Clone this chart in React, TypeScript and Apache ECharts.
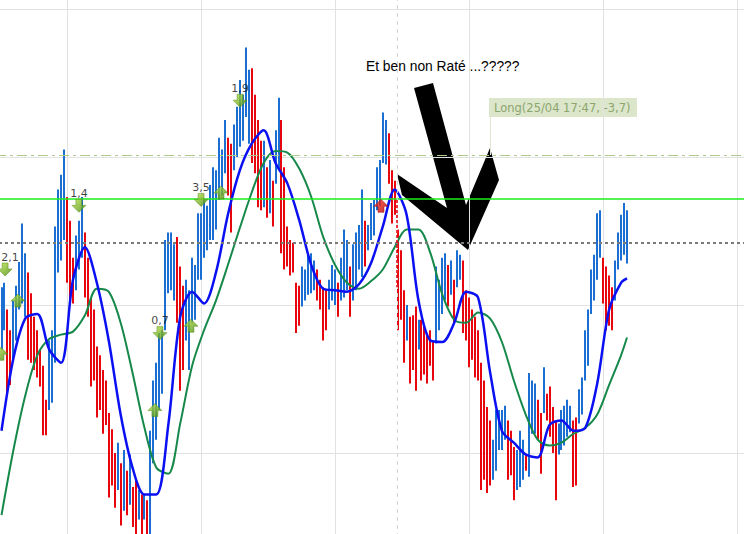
import { useEffect, useRef } from 'react'
import * as echarts from 'echarts'

// 1-bar-per-slot high/low chart with two moving averages, trade markers and
// the hand-drawn annotation of the original screenshot.

const FIRST_BAR = 23

// i23..i233
const highs = [
  4031.2, 4031.5, 4029.7, 4028.3, 4030.3, 4031.3, 4032.9, 4035.5, 4033.5, 4032.2,
  4030.8, 4029.2, 4028.3, 4027.0, 4025.9, 4023.6, 4027.6, 4028.3, 4035.3, 4037.8,
  4038.8, 4040.5, 4037.3, 4035.7, 4033.2, 4034.7, 4035.7, 4037.3, 4034.9, 4033.2,
  4030.5, 4029.7, 4027.2, 4026.6, 4025.6, 4024.9, 4022.7, 4021.6, 4020.0, 4020.7,
  4019.3, 4020.2, 4018.8, 4019.9, 4017.7, 4018.2, 4017.5, 4017.2, 4017.2, 4016.8,
  4021.5, 4024.9, 4026.1, 4028.1, 4028.3, 4034.4, 4034.9, 4034.9, 4034.1, 4034.6,
  4032.6, 4031.3, 4031.7, 4031.0, 4033.2, 4032.7, 4036.2, 4036.2, 4037.1, 4036.7,
  4038.1, 4039.3, 4039.1, 4041.3, 4040.5, 4042.5, 4041.3, 4040.9, 4042.2, 4043.4,
  4045.2, 4044.2, 4047.4, 4045.9, 4046.0, 4044.2, 4042.5, 4041.1, 4041.1, 4039.3,
  4039.8, 4038.4, 4041.8, 4044.0, 4042.5, 4039.3, 4035.3, 4034.4, 4034.2, 4031.5,
  4031.3, 4032.6, 4032.4, 4033.4, 4033.5, 4033.0, 4032.4, 4031.7, 4031.2, 4031.0,
  4031.7, 4032.7, 4032.4, 4031.5, 4033.2, 4035.1, 4034.4, 4032.6, 4034.1, 4034.9,
  4035.4, 4037.8, 4035.7, 4035.4, 4036.9, 4037.1, 4039.3, 4039.8, 4043.0, 4042.5,
  4041.6, 4039.1, 4038.4, 4035.1, 4033.7, 4031.0, 4030.0, 4029.2, 4029.3, 4029.9,
  4029.0, 4029.0, 4028.6, 4028.1, 4028.3, 4027.6, 4032.6, 4031.7, 4033.2, 4033.5,
  4032.7, 4033.0, 4031.7, 4033.7, 4033.4, 4033.0, 4031.0, 4030.5, 4029.7, 4029.2,
  4028.3, 4026.1, 4024.9, 4023.1, 4022.2, 4020.9, 4022.9, 4022.9, 4022.9, 4023.2,
  4022.2, 4021.5, 4020.4, 4020.2, 4021.5, 4020.9, 4019.9, 4025.4, 4024.9, 4024.7,
  4023.6, 4022.7, 4025.8, 4024.0, 4024.5, 4023.1, 4022.2, 4022.0, 4022.9, 4023.2,
  4023.6, 4023.2, 4022.2, 4022.4, 4024.3, 4025.1, 4028.3, 4029.7, 4032.4, 4033.4,
  4036.2, 4036.4, 4033.2, 4032.6, 4032.0, 4031.2, 4033.0, 4034.9, 4036.1, 4036.9, 4036.4,
]

const lows = [
  4027.0, 4028.3, 4024.0, 4024.6, 4026.3, 4027.6, 4029.7, 4030.1, 4029.2, 4026.3,
  4026.1, 4025.6, 4025.1, 4024.5, 4021.2, 4021.2, 4022.9, 4023.4, 4026.1, 4032.2,
  4033.0, 4034.4, 4031.5, 4030.1, 4030.1, 4031.0, 4032.4, 4033.2, 4030.5, 4029.2,
  4024.5, 4024.9, 4022.4, 4022.9, 4021.3, 4021.9, 4017.0, 4017.8, 4016.3, 4017.5,
  4015.1, 4016.1, 4015.8, 4016.5, 4015.0, 4014.5, 4015.5, 4014.5, 4015.5, 4014.5,
  4014.5, 4019.3, 4020.9, 4022.9, 4024.0, 4028.3, 4030.8, 4031.0, 4030.3, 4028.8,
  4024.2, 4025.6, 4027.6, 4025.6, 4028.8, 4029.0, 4031.7, 4031.7, 4033.2, 4033.7,
  4034.4, 4034.4, 4035.1, 4037.1, 4037.4, 4038.9, 4037.4, 4034.9, 4039.1, 4040.0,
  4040.7, 4041.1, 4042.7, 4040.9, 4039.6, 4038.9, 4036.6, 4036.4, 4036.6, 4035.9,
  4036.2, 4035.3, 4038.2, 4039.1, 4033.5, 4032.4, 4032.6, 4032.0, 4032.2, 4028.1,
  4028.6, 4029.9, 4030.3, 4030.7, 4030.8, 4031.0, 4030.3, 4029.7, 4027.6, 4028.3,
  4029.7, 4030.3, 4030.0, 4029.2, 4030.3, 4030.5, 4031.0, 4029.2, 4030.3, 4031.0,
  4032.4, 4031.9, 4032.6, 4033.7, 4034.4, 4034.7, 4036.4, 4036.7, 4039.6, 4039.5,
  4038.2, 4035.5, 4036.1, 4028.3, 4029.0, 4026.1, 4027.6, 4024.7, 4025.6, 4024.2,
  4027.0, 4024.9, 4025.3, 4024.7, 4025.9, 4024.9, 4027.4, 4028.3, 4029.4, 4030.3,
  4029.9, 4030.7, 4028.8, 4031.2, 4031.7, 4028.1, 4027.6, 4025.8, 4026.3, 4025.1,
  4024.9, 4017.5, 4018.2, 4017.3, 4017.8, 4018.2, 4018.8, 4020.2, 4020.2, 4020.9,
  4018.2, 4018.5, 4016.8, 4017.5, 4017.7, 4018.2, 4018.8, 4018.4, 4021.3, 4021.3,
  4020.9, 4018.6, 4022.7, 4022.2, 4021.1, 4020.0, 4016.8, 4019.9, 4020.2, 4020.5,
  4021.1, 4021.4, 4017.7, 4017.8, 4022.0, 4022.6, 4024.9, 4025.9, 4029.4, 4030.3,
  4031.7, 4033.2, 4030.1, 4028.3, 4028.6, 4028.3, 4030.3, 4032.4, 4033.0, 4033.4, 4032.8,
]

// 1 = up bar (blue), 0 = down bar (red)
const dirs = [
  1, 1, 0, 0, 1, 1, 1, 1, 1, 0,
  0, 0, 0, 0, 0, 0, 1, 1, 1, 1,
  1, 1, 0, 0, 0, 1, 1, 1, 0, 0,
  0, 0, 0, 0, 0, 0, 0, 0, 0, 1,
  0, 1, 0, 1, 0, 0, 1, 0, 1, 0,
  1, 1, 1, 1, 1, 1, 1, 1, 1, 0,
  0, 0, 1, 1, 1, 1, 1, 1, 1, 1,
  1, 1, 1, 1, 1, 1, 0, 0, 1, 1,
  1, 1, 1, 1, 0, 0, 0, 0, 1, 0,
  1, 0, 1, 1, 0, 0, 0, 0, 0, 0,
  0, 1, 1, 1, 1, 1, 0, 0, 0, 0,
  1, 1, 1, 0, 1, 1, 1, 0, 1, 1,
  1, 1, 0, 1, 1, 1, 1, 1, 1, 1,
  0, 0, 0, 0, 0, 0, 1, 0, 0, 0,
  1, 0, 0, 0, 0, 0, 1, 1, 1, 1,
  0, 1, 0, 1, 1, 0, 0, 0, 0, 0,
  0, 0, 0, 0, 0, 1, 1, 1, 1, 1,
  0, 0, 0, 1, 1, 1, 0, 1, 1, 1,
  0, 0, 1, 0, 0, 0, 0, 1, 1, 1,
  1, 1, 0, 0, 1, 1, 1, 1, 1, 1,
  1, 1, 0, 0, 0, 0, 1, 1, 1, 1, 1,
]

const maIndex = [
  23, 27, 31, 35, 39, 43, 47, 51, 55, 59, 63, 67, 71, 75, 79, 83, 87, 91, 95, 99,
  103, 107, 111, 115, 119, 123, 127, 131, 135, 139, 143, 147, 151, 155, 159, 163,
  167, 171, 175, 179, 183, 187, 191, 195, 199, 203, 207, 211, 215, 219, 223, 227,
  231, 233,
]

const maFast = [
  4021.5, 4026.4, 4029.1, 4029.4, 4027.0, 4026.1, 4031.7, 4033.9, 4031.5, 4027.6,
  4022.6, 4019.0, 4017.2, 4017.2, 4021.9, 4029.2, 4030.9, 4030.1, 4032.2, 4036.1,
  4039.1, 4040.9, 4041.8, 4039.6, 4038.2, 4035.7, 4032.7, 4031.1, 4031.0, 4030.9,
  4031.4, 4032.8, 4035.3, 4037.8, 4036.1, 4030.3, 4027.6, 4027.5, 4028.8, 4030.9,
  4030.5, 4025.5, 4021.5, 4020.7, 4019.9, 4019.7, 4021.9, 4022.2, 4021.5, 4021.7,
  4024.7, 4029.7, 4031.5, 4031.8,
]

const maSlow = [
  4015.8, 4020.2, 4023.9, 4026.6, 4027.7, 4028.0, 4028.2, 4029.3, 4031.1, 4030.9,
  4028.8, 4025.4, 4021.7, 4019.0, 4018.6, 4022.0, 4025.9, 4028.3, 4030.3, 4032.7,
  4035.2, 4037.6, 4039.6, 4040.4, 4040.3, 4039.2, 4037.3, 4034.6, 4032.7, 4031.5,
  4031.1, 4031.6, 4032.4, 4033.9, 4035.1, 4035.1, 4033.5, 4030.7, 4029.0, 4028.8,
  4029.5, 4029.1, 4027.5, 4024.9, 4022.6, 4020.9, 4020.5, 4020.7, 4021.3, 4021.7,
  4022.6, 4024.6, 4026.6, 4027.8,
]

// trade signals
const sigIndex = [24.2, 28.5, 22.8, 49, 76.2, 74.5, 86.6, 90, 96.7, 103.1, 150.4]
const sigPrice = [4032.4, 4030.3, 4026.7, 4036.7, 4028.1, 4022.9, 4028.6, 4037.1, 4037.6, 4043.8, 4036.7]
const sigDir = ['down', 'up', 'up', 'down', 'down', 'up', 'up', 'down', 'up', 'down', 'up']
const sigLabel = ['2,1', '', '', '1,4', '0,7', '', '', '3,5', '', '1,9', '']
const sigRed = [false, false, false, false, false, false, false, false, false, false, true]

// horizontal levels and the open position
const stopLevel = 4037.2
const lastLevel = 4034.2
const entryLevel = 4040.1
const tradeIndex = 155.8
const tradeStop = [4037.1, 4031.2]

const BAR_UP = '#1b6fd2'
const BAR_DOWN = '#e8060e'

// The plot area is larger than the window so that the grid lines fall where
// the screenshot has them; the chart div is shifted up/left by this much.
const SHIFT_X = 67
const SHIFT_Y = 139

const ARROW_DOWN = 'path://M4,0 L10,0 L10,6 L14,6 L7,13 L0,6 L4,6 Z'
const ARROW_UP = 'path://M7,0 L14,7 L10,7 L10,13 L4,13 L4,7 L0,7 Z'

function greenFill() {
  return new echarts.graphic.LinearGradient(0, 0, 1, 1, [
    { offset: 0, color: '#bde84a' },
    { offset: 1, color: '#45860a' },
  ])
}

function redFill() {
  return new echarts.graphic.LinearGradient(0, 0, 1, 1, [
    { offset: 0, color: '#ff3a2a' },
    { offset: 1, color: '#b80000' },
  ])
}

function buildOption(): echarts.EChartsCoreOption {
  const bars = highs.map((h, k) => [FIRST_BAR + k, h, lows[k], dirs[k]])
  const fast = maIndex.map((x, k) => [x, maFast[k]])
  const slow = maIndex.map((x, k) => [x, maSlow[k]])
  const signals = sigIndex.map((x, k) => ({
    value: [x, sigPrice[k]],
    symbol: sigDir[k] === 'down' ? ARROW_DOWN : ARROW_UP,
    itemStyle: {
      color: sigRed[k] ? redFill() : greenFill(),
      borderColor: sigRed[k] ? '#a00000' : '#4f8a14',
      borderWidth: 0.6,
    },
    label: {
      show: sigLabel[k] !== '',
      formatter: sigLabel[k],
      // the first label sits against the left edge
      offset: k === 0 ? [5, 0] : [0, 0],
    },
  }))

  return {
    animation: false,
    backgroundColor: '#ffffff',
    grid: { left: 0, right: 0, top: 0, bottom: 0 },
    xAxis: {
      type: 'value',
      min: 0,
      max: 280,
      interval: 45,
      axisLine: { show: false },
      axisTick: { show: false },
      axisLabel: { show: false },
      splitLine: { show: true, lineStyle: { color: '#e2e2e2', width: 1 } },
    },
    yAxis: {
      type: 'value',
      min: 4010,
      max: 4060,
      interval: 10,
      axisLine: { show: false },
      axisTick: { show: false },
      axisLabel: { show: false },
      splitLine: { show: true, lineStyle: { color: '#e2e2e2', width: 1 } },
    },
    series: [
      {
        type: 'custom',
        name: 'bars',
        z: 2,
        encode: { x: 0, y: [1, 2] },
        data: bars,
        renderItem: (_params: any, api: any) => {
          const top = api.coord([api.value(0), api.value(1)])
          const bot = api.coord([api.value(0), api.value(2)])
          const x = Math.round(top[0])
          return {
            type: 'line',
            shape: { x1: x, y1: top[1], x2: x, y2: bot[1] },
            style: { stroke: api.value(3) ? BAR_UP : BAR_DOWN, lineWidth: 2 },
          }
        },
      },
      {
        type: 'line',
        name: 'slow',
        z: 3,
        data: slow,
        smooth: 0.3,
        showSymbol: false,
        lineStyle: { color: '#16894a', width: 2 },
        markLine: {
          silent: true,
          symbol: ['none', 'none'],
          label: { show: false },
          data: [
            { yAxis: entryLevel, lineStyle: { color: '#aecb8c', width: 1, type: [10, 4, 3, 4] } },
            { yAxis: stopLevel, lineStyle: { color: '#1bee1b', width: 1.5, type: 'solid' } },
            { yAxis: lastLevel, lineStyle: { color: '#7a7a7a', width: 2.2, type: [3, 3] } },
            { xAxis: tradeIndex, lineStyle: { color: '#d4d4d4', width: 1, type: [4, 4] } },
            [
              { coord: [tradeIndex, tradeStop[0]], lineStyle: { color: '#e8060e', width: 1.6, type: [3, 2] } },
              { coord: [tradeIndex, tradeStop[1]] },
            ],
          ],
        },
      },
      {
        type: 'line',
        name: 'fast',
        z: 4,
        data: fast,
        smooth: 0.3,
        showSymbol: false,
        lineStyle: { color: '#0a10f2', width: 2.5 },
      },
      {
        type: 'scatter',
        name: 'signals',
        z: 5,
        symbolSize: [14, 13],
        data: signals,
        label: {
          position: 'top',
          distance: 0,
          fontFamily: 'DejaVu Sans',
          fontSize: 11,
          color: '#111111',
        },
      },
    ],
    graphic: [
      {
        type: 'group',
        x: SHIFT_X,
        y: SHIFT_Y,
        z: 20,
        children: [
          {
            type: 'text',
            x: 366,
            y: 66,
            style: {
              text: 'Et ben non Raté ...?????',
              font: '13.8px "Liberation Sans", Arial, sans-serif',
              fill: '#000000',
              verticalAlign: 'middle',
            },
          },
          {
            type: 'polygon',
            shape: {
              points: [
                [414, 88], [433, 83], [466, 205], [490, 148], [499, 180],
                [468, 250], [402, 195], [397, 174], [447, 208],
              ],
            },
            style: { fill: '#000000' },
          },
          {
            type: 'line',
            shape: { x1: 490.5, y1: 117, x2: 490.5, y2: 155 },
            style: { stroke: '#dfe7d3', lineWidth: 1 },
          },
          {
            type: 'rect',
            shape: { x: 489, y: 98, width: 148, height: 19 },
            style: { fill: '#dce6ca' },
          },
          {
            type: 'text',
            x: 494,
            y: 108,
            style: {
              text: 'Long(25/04 17:47, -3,7)',
              font: '11.5px "DejaVu Sans", Verdana, sans-serif',
              fill: '#8ba56f',
              verticalAlign: 'middle',
            },
          },
        ],
      },
    ],
  }
}

export default function App() {
  const ref = useRef<HTMLDivElement>(null)

  useEffect(() => {
    const el = ref.current
    if (!el) return
    const chart = echarts.init(el, undefined, { renderer: 'svg' })
    chart.setOption(buildOption())
    return () => chart.dispose()
  }, [])

  return (
    <div
      style={{
        position: 'fixed',
        left: 0,
        top: 0,
        width: 744,
        height: 534,
        overflow: 'hidden',
        background: '#fff',
      }}
    >
      <div
        ref={ref}
        style={{ position: 'absolute', left: -SHIFT_X, top: -SHIFT_Y, width: 834, height: 740 }}
      />
    </div>
  )
}
